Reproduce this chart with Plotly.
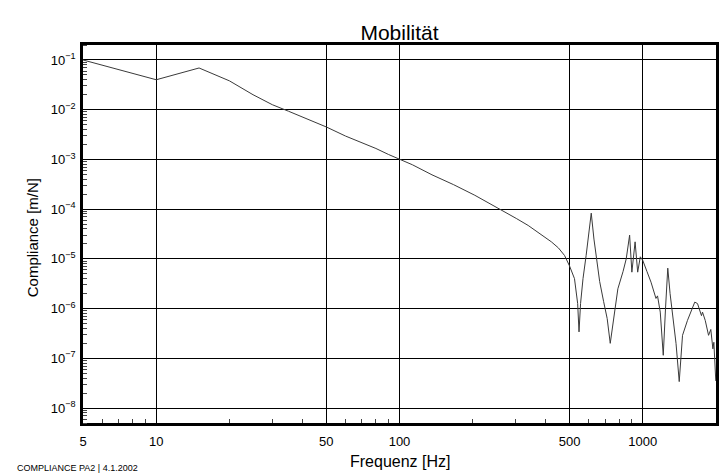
import plotly.graph_objects as go

# Frequency (Hz) and compliance (m/N)
freq = [5, 10, 15, 20, 25, 30, 35, 40, 45, 50, 60, 70, 80, 90, 100, 113, 136, 167,
        204, 255, 302, 338, 380, 421, 450, 477, 500, 524, 540, 547, 555, 568, 585,
        600, 614, 630, 644, 665, 690, 714, 735, 757, 790, 830, 855, 883, 902, 930,
        953, 977, 1000, 1040, 1081, 1133, 1150, 1180, 1214, 1240, 1267, 1295, 1325,
        1370, 1412, 1457, 1527, 1580, 1636, 1679, 1720, 1743, 1760, 1806, 1864,
        1904, 1942, 1960, 1996]
compliance = [1.0e-1, 4.0e-2, 6.9e-2, 3.8e-2, 2.0e-2, 1.26e-2, 9.3e-3, 7.1e-3, 5.4e-3,
              4.5e-3, 2.95e-3, 2.2e-3, 1.66e-3, 1.26e-3, 1.0e-3, 7.8e-4, 4.9e-4, 3.1e-4,
              1.9e-4, 1.05e-4, 6.5e-5, 4.7e-5, 3.2e-5, 2.2e-5, 1.66e-5, 1.17e-5, 7.2e-6,
              4.0e-6, 1.26e-6, 3.4e-7, 1.26e-6, 4.0e-6, 1.17e-5, 3.2e-5, 8.3e-5, 2.5e-5,
              1.0e-5, 3.5e-6, 1.4e-6, 6.3e-7, 2.0e-7, 5.4e-7, 2.5e-6, 5.6e-6, 1.0e-5,
              3.0e-5, 5.4e-6, 2.2e-5, 5.4e-6, 1.1e-5, 9.3e-6, 5.6e-6, 3.4e-6, 1.6e-6,
              1.8e-6, 8.5e-7, 1.15e-7, 1.0e-6, 6.5e-6, 2.0e-6, 7.2e-7, 2.0e-7, 3.4e-8,
              2.9e-7, 5.8e-7, 8.9e-7, 1.35e-6, 1.26e-6, 8.9e-7, 7.2e-7, 8.5e-7, 5.8e-7,
              2.9e-7, 3.8e-7, 1.55e-7, 2.1e-7, 3.5e-8]

x_tickvals = [5, 10, 50, 100, 500, 1000]
x_ticktext = ["5", "10", "50", "100", "500", "1000"]
x_minor = [6, 7, 8, 9, 20, 30, 40, 60, 70, 80, 90, 200, 300, 400, 600, 700, 800, 900]
y_exponents = [-1, -2, -3, -4, -5, -6, -7, -8]
y_tickvals = [10.0 ** e for e in y_exponents]
y_ticktext = ["10<sup>\u2212%d</sup>" % (-e) for e in y_exponents]
y_minor = [m * 10.0 ** e for e in range(-9, 0) for m in range(2, 10)]

title_text = "Mobilität"
x_title = "Frequenz [Hz]"
y_title = "Compliance [m/N]"
footer = "COMPLIANCE PA2 | 4.1.2002"

FONT = "Liberation Sans, Arial, sans-serif"

fig = go.Figure()
fig.add_trace(go.Scatter(x=freq, y=compliance, mode="lines",
                         line=dict(color="#3a3a3a", width=1), showlegend=False))

fig.update_layout(
    width=727, height=476,
    margin=dict(l=83, r=8, t=45, b=53),
    paper_bgcolor="white", plot_bgcolor="white",
    font=dict(family=FONT, color="black", size=13),
    title=dict(text=title_text, x=0.5, xref="paper", xanchor="center",
               y=1 - 33 / 476, yref="container", yanchor="middle",
               font=dict(family=FONT, size=21, color="black")),
    showlegend=False,
)

fig.update_xaxes(
    type="log", range=[0.69897, 3.30103],
    tickmode="array", tickvals=x_tickvals, ticktext=x_ticktext,
    ticks="", showgrid=True, gridcolor="black", gridwidth=1,
    showline=True, linecolor="black", linewidth=2.5, mirror=True,
    zeroline=False, ticklabelstandoff=5,
    tickfont=dict(family=FONT, size=13, color="black"),
    minor=dict(tickmode="array", tickvals=x_minor, ticks="inside", ticklen=4,
               tickwidth=1, tickcolor="#444", showgrid=False),
)
fig.update_yaxes(
    type="log", range=[-8.30103, -0.69897],
    tickmode="array", tickvals=y_tickvals, ticktext=y_ticktext,
    ticks="", showgrid=True, gridcolor="black", gridwidth=1,
    showline=True, linecolor="black", linewidth=2.5, mirror=True,
    zeroline=False, ticklabelstandoff=2,
    tickfont=dict(family=FONT, size=13, color="black"),
    minor=dict(tickmode="array", tickvals=y_minor, ticks="inside", ticklen=4,
               tickwidth=1, tickcolor="#444", showgrid=False),
)

fig.add_annotation(text=x_title, xref="paper", yref="paper",
                   x=(402 - 83) / 636, y=(423 - 461) / 378,
                   xanchor="center", yanchor="middle", showarrow=False,
                   font=dict(family=FONT, size=16, color="black"))
fig.add_annotation(text=y_title, xref="paper", yref="paper",
                   x=(32 - 83) / 636, y=(423 - 238) / 378, textangle=-90,
                   xanchor="center", yanchor="middle", showarrow=False,
                   font=dict(family=FONT, size=15, color="black"))
fig.add_annotation(text=footer, xref="paper", yref="paper",
                   x=(15 - 83) / 636, y=(423 - 468) / 378,
                   xanchor="left", yanchor="middle", showarrow=False,
                   font=dict(family=FONT, size=9, color="black"))

fig.write_html("out.html", config={"displayModeBar": False},
               post_script="document.body.style.margin='0';document.body.style.padding='0';")
